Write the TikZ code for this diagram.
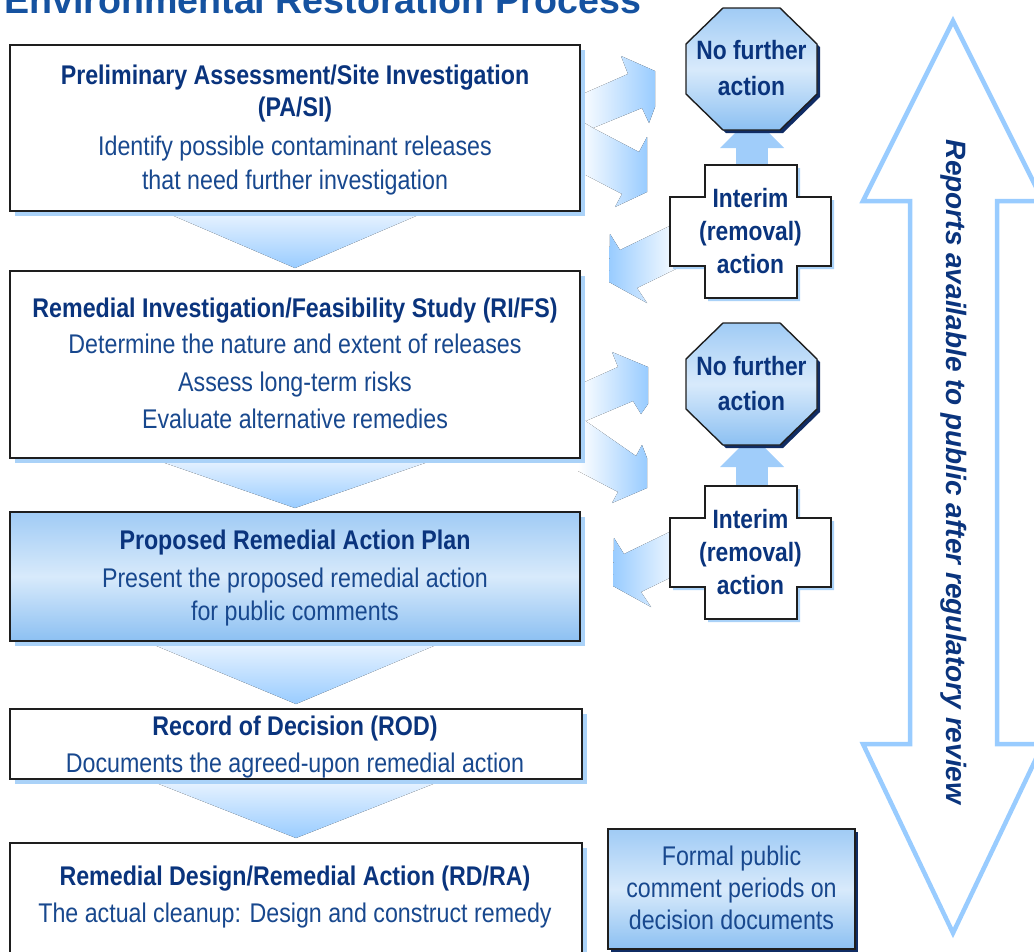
\documentclass[tikz,border=0pt]{standalone}
\usepackage{fontspec}
\setmainfont{Liberation Sans}
\newfontfamily\narrowsans{Liberation Sans}[FakeStretch=0.86]
\usetikzlibrary{calc}
\pgfdeclarelayer{background}
\pgfsetlayers{background,main}

\definecolor{navy}{RGB}{10,52,125}
\definecolor{bodyblue}{RGB}{24,72,142}
\definecolor{titleblue}{RGB}{21,82,160}
\definecolor{skyblue}{RGB}{153,204,255}
\definecolor{shadowblue}{RGB}{170,210,248}
\definecolor{chevtop}{RGB}{240,247,255}
\definecolor{deepnavy}{RGB}{16,44,100}
\definecolor{frame}{RGB}{30,30,30}
\definecolor{boxtop}{RGB}{160,203,245}
\definecolor{boxmid}{RGB}{216,234,251}
\definecolor{boxbot}{RGB}{140,192,242}
\definecolor{uparrowblue}{RGB}{160,205,250}

\tikzset{
  stagebox/.style={draw=frame, line width=1.8pt, fill=white, inner sep=0pt, outer sep=0pt,
    anchor=north west,
    preaction={fill=shadowblue, transform canvas={shift={(5pt,-5pt)}}}},
  blueshade/.style={top color=boxtop, bottom color=boxbot, middle color=boxmid},
  headline/.style={font=\narrowsans\bfseries\fontsize{27}{30}\selectfont, text=navy,
    anchor=base, inner sep=0pt},
  bodyline/.style={font=\narrowsans\fontsize{27}{30}\selectfont, text=bodyblue,
    anchor=base, inner sep=0pt},
  signline/.style={font=\narrowsans\bfseries\fontsize{26.5}{30}\selectfont, text=navy,
    anchor=base, inner sep=0pt},
  chevron/.style={top color=chevtop, bottom color=skyblue},
  fwdarrow/.style={left color=white, right color=skyblue},
  backarrow/.style={left color=skyblue, right color=white},
  octagon/.pic={
    \fill[deepnavy] (-25.5,-58)--(31.5,-58)--(68.5,-22)--(68.5,28)--(31.5,64)
      --(-25.5,64)--(-62.5,28)--(-62.5,-22)--cycle;
    \draw[frame, line width=1.4pt, top color=boxtop, bottom color=boxbot, middle color=boxmid]
      (-28.5,-61)--(28.5,-61)--(65.5,-25)--(65.5,25)--(28.5,61)--(-28.5,61)
      --(-65.5,25)--(-65.5,-25)--cycle;
  },
  interim/.pic={
    \fill[shadowblue] (-42.5,-63.5)--(49.5,-63.5)--(49.5,-31.5)--(83.5,-31.5)--(83.5,37.5)
      --(49.5,37.5)--(49.5,69.5)--(-42.5,69.5)--(-42.5,37.5)--(-77.5,37.5)
      --(-77.5,-31.5)--(-42.5,-31.5)--cycle;
    \draw[frame, line width=1.8pt, fill=white] (-45.5,-66.5)--(46.5,-66.5)--(46.5,-34.5)
      --(80.5,-34.5)--(80.5,34.5)--(46.5,34.5)--(46.5,66.5)--(-45.5,66.5)
      --(-45.5,34.5)--(-80.5,34.5)--(-80.5,-34.5)--(-45.5,-34.5)--cycle;
  }
}

\begin{document}
\begin{tikzpicture}[x=1pt,y=-1pt]
\useasboundingbox (0,0) rectangle (1034,951);
\clip (0,0) rectangle (1034,951);

% heading, running off the top edge
\node[anchor=base west, inner sep=0pt, font=\bfseries\fontsize{37.6}{40}\selectfont,
  text=titleblue] (title) at (4,13) {Environmental Restoration Process};

% process stages
\node[stagebox, minimum width=570pt, minimum height=166pt] (b1) at (10,45) {};
\node[stagebox, minimum width=570pt, minimum height=187pt] (b2) at (10,271) {};
\node[stagebox, blueshade, minimum width=570pt, minimum height=129pt] (b3) at (10,512) {};
\node[stagebox, minimum width=572pt, minimum height=70pt] (b4) at (10,709) {};
\node[stagebox, minimum width=572pt, minimum height=120pt] (b5) at (10,843) {};

\node[headline] (b1h) at (295,84) {Preliminary Assessment/Site Investigation};
\node[headline] (b1k) at (295,116) {(PA/SI)};
\node[bodyline] (b1a) at (295,155) {Identify possible contaminant releases};
\node[bodyline] (b1b) at (295,189) {that need further investigation};

\node[headline] (b2h) at (295,317) {Remedial Investigation/Feasibility Study (RI/FS)};
\node[bodyline] (b2a) at (295,353) {Determine the nature and extent of releases};
\node[bodyline] (b2b) at (295,391) {Assess long-term risks};
\node[bodyline] (b2c) at (295,428) {Evaluate alternative remedies};

\node[headline] (b3h) at (295,549) {Proposed Remedial Action Plan};
\node[bodyline] (b3a) at (295,587) {Present the proposed remedial action};
\node[bodyline] (b3b) at (295,620) {for public comments};

\node[headline] (b4h) at (295,735) {Record of Decision (ROD)};
\node[bodyline] (b4a) at (295,772) {Documents the agreed-upon remedial action};

\node[headline] (b5h) at (295,885) {Remedial Design/Remedial Action (RD/RA)};
\node[bodyline] (b5a) at (295,922) {The actual cleanup: Design and construct remedy};

% stop signs and interim actions
\pic (o1) at (751.5,69) {octagon};
\pic (o2) at (751.5,384) {octagon};
\node[signline] (o1a) at (751.5,59) {No further};
\node[signline] (o1b) at (751.5,95) {action};
\node[signline] (o2a) at (751.5,375) {No further};
\node[signline] (o2b) at (751.5,410) {action};

\pic (c1) at (750.5,231.5) {interim};
\pic (c2) at (750.5,552.5) {interim};
\node[signline] (c1a) at (750.5,207) {Interim};
\node[signline] (c1b) at (750.5,240) {(removal)};
\node[signline] (c1c) at (750.5,273) {action};
\node[signline] (c2a) at (750.5,528) {Interim};
\node[signline] (c2b) at (750.5,561) {(removal)};
\node[signline] (c2c) at (750.5,594) {action};

% public comment note
\node[draw=frame, line width=1.8pt, blueshade, inner sep=0pt, outer sep=0pt, anchor=north west,
  minimum width=247pt, minimum height=120pt,
  preaction={fill=deepnavy, transform canvas={shift={(2.5pt,-2.5pt)}}}] (fb) at (608,829) {};
\node[bodyline] (fba) at (731.5,865) {Formal public};
\node[bodyline] (fbb) at (731.5,897) {comment periods on};
\node[bodyline] (fbc) at (731.5,929) {decision documents};

% two-headed arrow for public reports
\draw[skyblue, line width=4.5pt, line join=miter, fill=white]
  (953,21)--(1043,201)--(997,201)--(997,744)--(1043,744)--(953,933)
  --(863,744)--(910,744)--(910,201)--(863,201)--cycle;
\node[font=\bfseries\itshape\fontsize{28}{30}\selectfont, text=navy, rotate=-90,
  inner sep=0pt] (reports) at (954,472) {Reports available to public after regulatory review};

\begin{pgfonlayer}{background}
  % chevrons between stages
  \fill[chevron] ($(b1.south)+(-142,-4)$) -- ($(b1.south)+(142,-4)$) -- ($(b2.north)+(0,-3)$) -- cycle;
  \fill[chevron] ($(b2.south)+(-156,-4)$) -- ($(b2.south)+(156,-4)$) -- ($(b3.north)+(0,-4)$) -- cycle;
  \fill[chevron] ($(b3.south)+(-160,-4)$) -- ($(b3.south)+(160,-4)$) -- ($(b4.north)+(0,-5)$) -- cycle;
  \fill[chevron] ($(b4.south)+(-160,-4)$) -- ($(b4.south)+(160,-4)$) -- ($(b5.north)+(0,-5)$) -- cycle;

  % side arrows to and from the right-hand column
  \fill[fwdarrow] (578,96)--(628,74)--(621,56)--(655,71)--(655,107)--(649,123)--(642,108)
    --(593,128)--(578,134)--cycle;
  \fill[fwdarrow] (578,119)--(593,128)--(639,152)--(647,137)--(647,192)--(615,207)
    --(622,194)--(578,171)--cycle;
  \fill[backarrow] (682,220)--(620,250)--(610,234)--(609,282)--(647,303)--(637,288)
    --(682,266)--cycle;

  \fill[fwdarrow] (578,385)--(618,367)--(612,352)--(648,367)--(648,404)--(641,414)--(633,401)
    --(588,420)--(578,425)--cycle;
  \fill[fwdarrow] (578,416)--(590,424)--(636,456)--(642,445)--(647,458)--(647,488)--(612,503)
    --(618,492)--(578,471)--cycle;
  \fill[backarrow] (686,524)--(624,554)--(614,538)--(613,586)--(651,607)--(641,592)
    --(686,570)--cycle;

  % short arrows from interim actions up to the stop signs
  \fill[uparrowblue] (736,146) rectangle (768,167);
  \fill[uparrowblue] (720,148)--(784,148)--(752,116)--cycle;
  \fill[uparrowblue] (736,465) rectangle (768,488);
  \fill[uparrowblue] (720,467)--(784,467)--(752,435)--cycle;
\end{pgfonlayer}
\end{tikzpicture}
\end{document}
